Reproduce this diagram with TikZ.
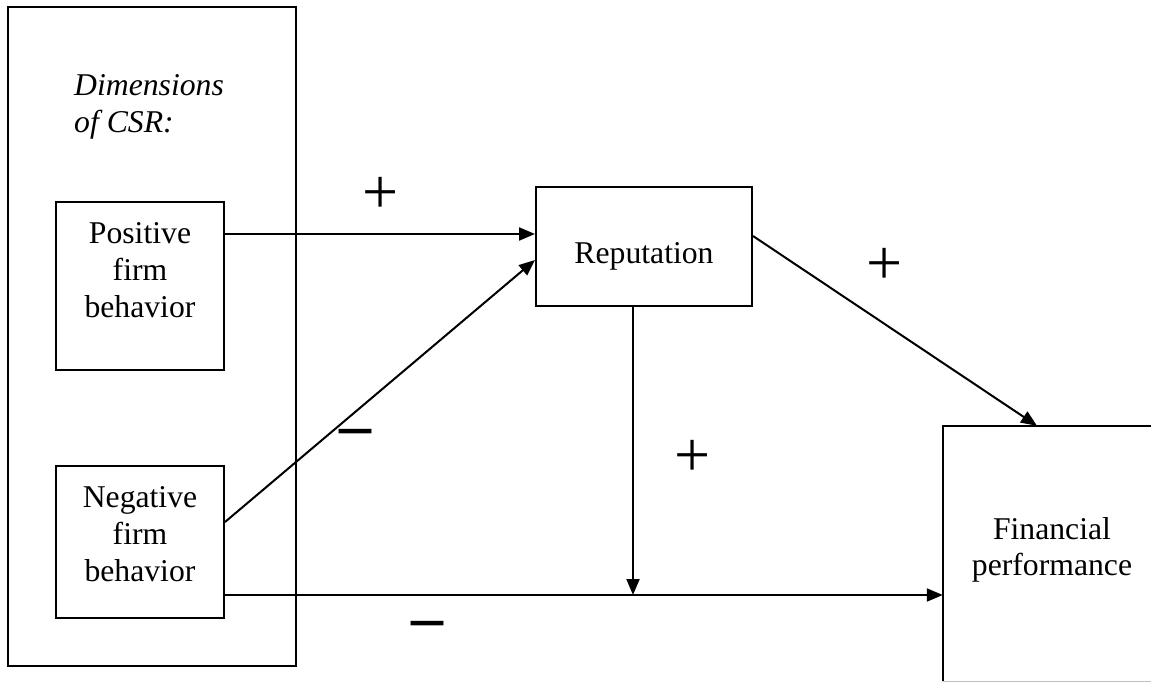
\documentclass[tikz,border=0pt]{standalone}
\usepackage{fontspec}
\setmainfont{Liberation Serif}
\usetikzlibrary{arrows.meta}
\newcommand\capstrut{\rule{0pt}{26pt}}
\begin{document}
\begin{tikzpicture}[x=1pt,y=-1pt,
  box/.style={draw,line width=2pt,inner sep=0pt},
  label text/.style={inner sep=0pt,align=center,font=\fontsize{31.7}{37}\selectfont},
  sign/.style={inner sep=0pt,font=\fontsize{64}{64}\selectfont},
  arr/.style={line width=2pt,-{Triangle[length=16pt,width=13pt]}},
  link/.style={line width=2pt}]
\useasboundingbox (0,0) rectangle (1151,690);

% group frame and the two behaviour boxes
\node[box,minimum width=288pt,minimum height=659pt] (csr) at (152,336.5) {};
\node[box,minimum width=168pt,minimum height=168pt] (pos) at (140,286) {};
\node[box,minimum width=168pt,minimum height=152pt] (neg) at (140,542) {};
\node[box,minimum width=216pt,minimum height=119pt] (rep) at (644,246.5) {};
\node[inner sep=0pt,minimum width=218pt,minimum height=255pt] (fin) at (1052,553.5) {};
\begin{scope}
  \clip (0,0) rectangle (1151,690);
  \draw[link] (fin.south west) -- (fin.north west) -- (fin.north east) -- (fin.south east);
  \draw[line width=1pt,black!25] (fin.south west) -- (fin.south east);
\end{scope}

% texts
\node[label text,anchor=north west,align=left] (dimtext) at (74,69)
  {\itshape\capstrut Dimensions\\ \itshape of CSR:};
\node[label text,anchor=north] (postext) at (140,217) {\capstrut Positive\\firm\\behavior};
\node[label text,anchor=north] (negtext) at (140,481) {\capstrut Negative\\firm\\behavior};
\node[label text,anchor=base] (reptext) at (644,263) {Reputation};
\node[label text,anchor=north,font=\fontsize{31.7}{36}\selectfont] (fintext) at (1052,513)
  {\capstrut Financial\\performance};

% connectors
\draw[arr] ([yshift=52pt]pos.east) -- ([yshift=12.5pt]rep.west);
\draw[arr] ([yshift=20pt]neg.east) -- ([yshift=-13.5pt]rep.west);
\draw[arr] ([yshift=10.5pt]rep.east) -- ([xshift=-15pt]fin.north);
\draw[arr] ([yshift=-53pt]neg.east) coordinate (h0) -- (h0 -| fin.west);
\draw[arr] ([xshift=-11pt]rep.south) coordinate (v0) -- (v0 |- h0);

% signs
\node[sign] (s1) at (381,195) {+};
\node[sign] (s2) at (885,266) {+};
\node[sign] (s3) at (693,458) {+};
\node[sign,font=\fontsize{64}{64}\selectfont\bfseries] (s4) at (355,438) {–};
\node[sign,font=\fontsize{64}{64}\selectfont\bfseries] (s5) at (427,630) {–};
\end{tikzpicture}
\end{document}
